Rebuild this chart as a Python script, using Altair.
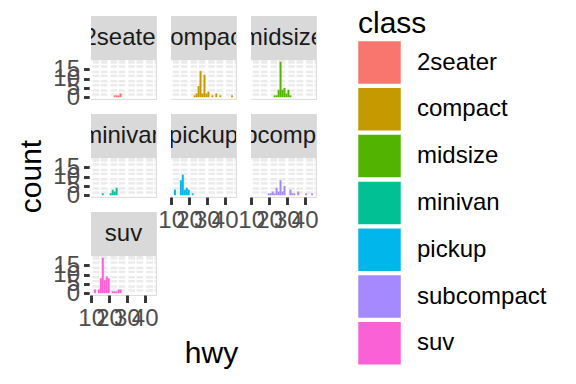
import altair as alt
import pandas as pd

# ---------------- data ----------------
classes = ["2seater", "compact", "midsize", "minivan", "pickup", "subcompact", "suv"]
fill_colors = ["#F8766D", "#C49A00", "#53B400", "#00C094", "#00B6EB", "#A58AFF", "#FB61D7"]

# histogram of hwy, 30 bins (ggplot default) over the range 12..44
bin_width = 32 / 29
bin_origin = 11.586207

count_2seater = [0, 0, 0, 0, 0, 0, 0, 0, 0, 0, 1, 1, 1, 2, 0, 0, 0, 0, 0, 0, 0, 0, 0, 0, 0, 0, 0, 0, 0, 0]
count_compact = [0, 0, 0, 0, 0, 0, 0, 0, 0, 0, 1, 2, 6, 14, 2, 12, 2, 3, 0, 1, 0, 2, 0, 1, 0, 0, 0, 0, 0, 1]
count_midsize = [0, 0, 0, 0, 0, 0, 0, 0, 0, 0, 1, 1, 4, 19, 4, 5, 2, 4, 1, 0, 0, 0, 0, 0, 0, 0, 0, 0, 0, 0]
count_minivan = [0, 0, 0, 0, 1, 0, 0, 0, 1, 3, 2, 4, 0, 0, 0, 0, 0, 0, 0, 0, 0, 0, 0, 0, 0, 0, 0, 0, 0, 0]
count_pickup = [3, 0, 0, 8, 11, 3, 4, 3, 0, 1, 0, 0, 0, 0, 0, 0, 0, 0, 0, 0, 0, 0, 0, 0, 0, 0, 0, 0, 0, 0]
count_subcompact = [0, 0, 0, 0, 0, 0, 0, 1, 1, 2, 1, 4, 2, 8, 2, 5, 0, 0, 3, 1, 1, 0, 2, 0, 0, 0, 1, 0, 0, 1]
count_suv = [2, 0, 2, 8, 19, 7, 9, 8, 0, 1, 1, 1, 2, 2, 0, 0, 0, 0, 0, 0, 0, 0, 0, 0, 0, 0, 0, 0, 0, 0]

x_major = [10, 20, 30, 40]
x_minor = [15, 25, 35, 45]
y_major = [0, 5, 10, 15]
y_minor = [2.5, 7.5, 12.5, 17.5]

all_counts = [count_2seater, count_compact, count_midsize, count_minivan,
              count_pickup, count_subcompact, count_suv]

rows = []
for cls, counts in zip(classes, all_counts):
    for k, c in enumerate(counts):
        rows.append({"cls": cls, "k": k, "count": c,
                     "start": bin_origin + k * bin_width,
                     "end": bin_origin + (k + 1) * bin_width})
df = pd.DataFrame(rows)

# ---------------- styling ----------------
FONT = "Liberation Sans"
W, H, STRIP = 65, 83, 44
xs = alt.Scale(domain=[9.93, 46.35], nice=False, zero=False)
ys = alt.Scale(domain=[-0.95, 19.95], nice=False, zero=False, range=[H, STRIP])
cs = alt.Scale(domain=classes, range=fill_colors)


def axis_common(values, **kw):
    return alt.Axis(values=values, grid=False, domain=False, ticks=True,
                    tickSize=7.5, tickWidth=2.9, tickColor="#333333",
                    labelFontSize=24, labelFont=FONT, labelColor="#4D4D4D",
                    labelPadding=4, labelOverlap=False, labelFlush=False,
                    titleFont=FONT, titleFontSize=30, titleColor="black",
                    titleFontWeight="normal", **kw)


def panel(cls, show_x=False, show_y=False, legend=False, x_title=False, y_title=False):
    if show_x:
        if x_title:
            xaxis = axis_common(x_major, title="hwy", titleX=120, titleY=58,
                                titleAlign="center", titleBaseline="middle")
        else:
            xaxis = axis_common(x_major, title=None)
    else:
        xaxis = None
    if show_y:
        if y_title:
            yaxis = axis_common(y_major, title="count", titleX=-60, titleY=62, titleAngle=270,
                                titleAlign="center", titleBaseline="middle")
        else:
            yaxis = axis_common(y_major, title=None)
    else:
        yaxis = None

    one = pd.DataFrame({"cls": [cls]})
    bg = alt.Chart(one).mark_rect(color="#EBEBEB").encode(
        x=alt.value(0), x2=alt.value(W), y=alt.value(STRIP), y2=alt.value(H))
    strip = alt.Chart(one).mark_rect(color="#D9D9D9").encode(
        x=alt.value(0), x2=alt.value(W), y=alt.value(0), y2=alt.value(STRIP))
    label = alt.Chart(one).mark_text(clip=True, fontSize=24, font=FONT, color="#1A1A1A",
                                     align="center", baseline="middle").encode(
        x=alt.value(W / 2), y=alt.value(STRIP / 2), text="cls:N")
    gxm = alt.Chart(pd.DataFrame({"v": x_minor})).mark_rule(color="white", strokeWidth=1.45).encode(
        x=alt.X("v:Q", scale=xs, axis=xaxis), y=alt.value(STRIP), y2=alt.value(H))
    gym = alt.Chart(pd.DataFrame({"v": y_minor})).mark_rule(color="white", strokeWidth=1.45).encode(
        y=alt.Y("v:Q", scale=ys, axis=yaxis), x=alt.value(0), x2=alt.value(W))
    gxM = alt.Chart(pd.DataFrame({"v": x_major})).mark_rule(color="white", strokeWidth=2.9).encode(
        x=alt.X("v:Q", scale=xs, axis=xaxis), y=alt.value(STRIP), y2=alt.value(H))
    gyM = alt.Chart(pd.DataFrame({"v": y_major})).mark_rule(color="white", strokeWidth=2.9).encode(
        y=alt.Y("v:Q", scale=ys, axis=yaxis), x=alt.value(0), x2=alt.value(W))

    if legend:
        leg = alt.Legend(title="class", orient="none", legendX=267, legendY=-7,
                         direction="vertical", symbolType="square", symbolSize=1806,
                         symbolStrokeWidth=0, symbolOpacity=1,
                         titleFontSize=30, titleFont=FONT, titleFontWeight="normal",
                         titleColor="black", titlePadding=2,
                         labelFontSize=24, labelFont=FONT, labelColor="black",
                         labelOffset=16, rowPadding=3.8, padding=0)
    else:
        leg = None

    d = df[(df["cls"] == cls) & (df["count"] > 0)]
    bars = alt.Chart(d).mark_rect().encode(
        x=alt.X("start:Q", scale=xs, axis=xaxis),
        x2="end:Q",
        y=alt.Y("count:Q", scale=ys, axis=yaxis),
        y2=alt.datum(0),
        color=alt.Color("cls:N", scale=cs, legend=leg),
    )
    return alt.layer(bg, gxm, gym, gxM, gyM, strip, label, bars).properties(width=W, height=H)


panels = [
    panel("2seater", show_y=True, legend=True),
    panel("compact"),
    panel("midsize"),
    panel("minivan", show_y=True, y_title=True),
    panel("pickup", show_x=True),
    panel("subcompact", show_x=True),
    panel("suv", show_x=True, show_y=True, x_title=True),
]

chart = alt.concat(*panels, columns=3, spacing=15, bounds="flush").resolve_scale(
    color="independent").resolve_legend(color="independent").properties(
    padding={"left": 7, "top": 0, "right": 0, "bottom": 0}
).configure_view(stroke=None).configure(font=FONT, background="white")

chart.save("out.html", embed_options={"renderer": "svg", "actions": False})
